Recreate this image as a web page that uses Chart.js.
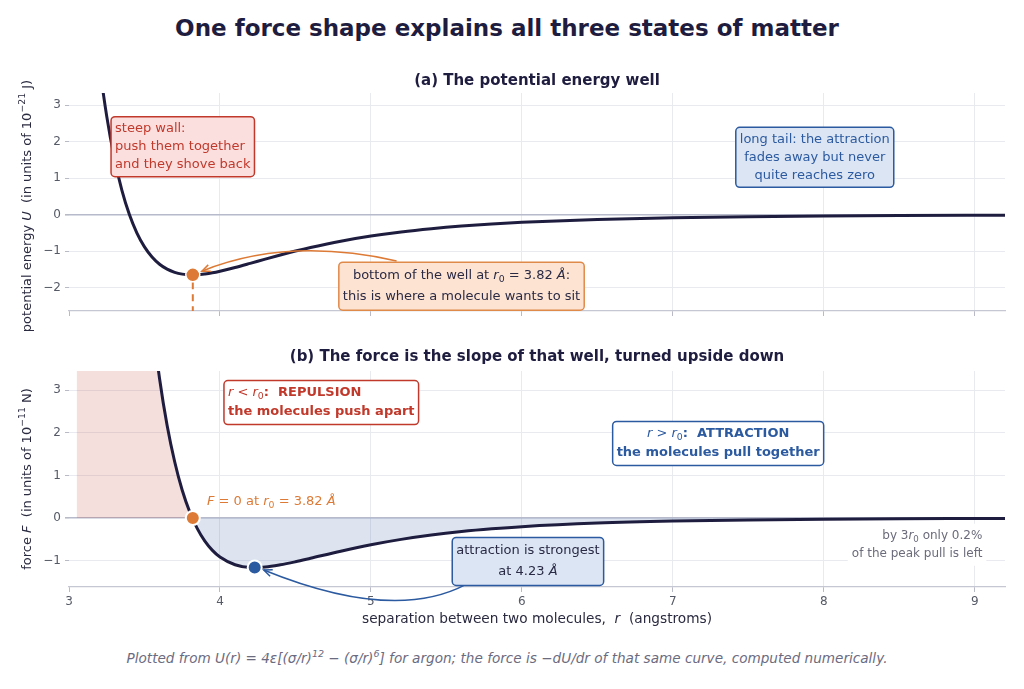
<!DOCTYPE html>
<html>
<head>
<meta charset="utf-8">
<script src="https://cdn.jsdelivr.net/npm/chart.js@4.4.1/dist/chart.umd.min.js"></script>
<style>
  body { margin: 0; background: #fff; width: 1024px; height: 689px; overflow: hidden; position: relative; font-family: "DejaVu Sans", sans-serif; }
  #title { position: absolute; top: 15px; left: -5px; width: 1024px; text-align: center; font-weight: bold; font-size: 23px; color: #1f1d3f; }
  #foot { position: absolute; top: 650px; left: -5px; width: 1024px; text-align: center; font-style: italic; font-size: 13.6px; color: #6b6b80; }
  #foot sup { font-size: 9.5px; line-height: 0; }
  .wrap { position: absolute; left: 0; width: 1024px; }
  #wa { top: 60px; height: 280px; }
  #wb { top: 340px; height: 295px; }
</style>
</head>
<body>
<div id="title">One force shape explains all three states of matter</div>
<div class="wrap" id="wa"><canvas id="well"></canvas></div>
<div class="wrap" id="wb"><canvas id="force"></canvas></div>
<div id="foot">Plotted from U(r) = 4ε[(σ/r)<sup>12</sup> − (σ/r)<sup>6</sup>] for argon; the force is −dU/dr of that same curve, computed numerically.</div>
<script>
// separation r in angstroms
const separation = [3.05, 3.10, 3.15, 3.20, 3.25, 3.30, 3.35, 3.40, 3.45, 3.50, 3.55, 3.60, 3.65, 3.70, 3.75, 3.80,
  3.85, 3.90, 3.95, 4.00, 4.10, 4.20, 4.30, 4.40, 4.50, 4.60, 4.80, 5.00, 5.20, 5.40, 5.60, 5.80, 6.00, 6.50,
  7.00, 7.50, 8.00, 8.50, 9.00, 9.20];
// potential energy U, units of 1e-21 J
const energy = [11.64, 8.51, 6.07, 4.17, 2.69, 1.549, 0.671, 0, -0.507, -0.885, -1.162, -1.360, -1.495, -1.581, -1.630, -1.649,
  -1.646, -1.625, -1.593, -1.550, -1.448, -1.335, -1.219, -1.106, -0.999, -0.901, -0.728, -0.588, -0.475, -0.386, -0.314, -0.257, -0.211, -0.132,
  -0.086, -0.057, -0.039, -0.027, -0.019, -0.017];
// force F, units of 1e-11 N
const force = [70.7, 55.2, 43.0, 33.4, 25.9, 20.0, 15.3, 11.65, 8.75, 6.47, 4.68, 3.27, 2.17, 1.32, 0.65, 0.14,
  -0.25, -0.544, -0.761, -0.917, -1.098, -1.160, -1.151, -1.100, -1.028, -0.946, -0.779, -0.628, -0.502, -0.400, -0.319, -0.255, -0.204, -0.120,
  -0.072, -0.045, -0.029, -0.019, -0.013, -0.011];

const r0 = 3.82, uMin = -1.65;
const rPeak = 4.23, fPeak = -1.16;
const xTicks = [3, 4, 5, 6, 7, 8, 9];
const uTicks = [-2, -1, 0, 1, 2, 3];
const fTicks = [-1, 0, 1, 2, 3];

const NAVY = "#1f1d3f", ORANGE = "#dd7a35", BLUE = "#2c5aa0", RED = "#c0392b";
const FONT = '"DejaVu Sans"';
Chart.defaults.font.family = FONT;
Chart.defaults.color = "#555a66";

function pts(xs, ys) { return xs.map((x, i) => ({ x: x, y: ys[i] })); }

// rich text: segs = [[text, flags]], flags: "it", "bd", "lo" (subscript), "hi" (superscript)
function richParts(ctx, segs, size) {
  return segs.map(([t, f]) => {
    f = f || "";
    const small = f.includes("lo") || f.includes("hi");
    const font = (f.includes("it") ? "italic " : "") + (f.includes("bd") ? "bold " : "") + (small ? size * 0.72 : size) + "px " + FONT;
    ctx.font = font;
    return { t, font, w: ctx.measureText(t).width, dy: f.includes("lo") ? size * 0.3 : f.includes("hi") ? -size * 0.42 : 0 };
  });
}
function drawRich(ctx, segs, x, y, align, size, color) {
  const parts = richParts(ctx, segs, size);
  const total = parts.reduce((a, p) => a + p.w, 0);
  let cx = align === "center" ? x - total / 2 : align === "right" ? x - total : x;
  ctx.textBaseline = "middle"; ctx.textAlign = "left"; ctx.fillStyle = color;
  parts.forEach(p => { ctx.font = p.font; ctx.fillText(p.t, cx, y + p.dy); cx += p.w; });
}
function note(chart, o) {
  const ctx = chart.ctx, sx = chart.scales.x, sy = chart.scales.y;
  const x = sx.getPixelForValue(o.x), y = sy.getPixelForValue(o.y);
  const size = o.size || 13, lh = o.lineH || 18;
  const widths = o.lines.map(l => richParts(ctx, l, size).reduce((a, p) => a + p.w, 0));
  const w = Math.max(...widths), h = o.lines.length * lh;
  const left = o.align === "left" ? x : o.align === "right" ? x - w : x - w / 2;
  const top = y - h / 2;
  ctx.save();
  if (o.fill || o.stroke) {
    ctx.beginPath();
    ctx.roundRect(left - 4, top - 3, w + 8, h + 6, 4);
    ctx.fillStyle = o.fill || "#fff"; ctx.fill();
    if (o.stroke) { ctx.lineWidth = 1.5; ctx.strokeStyle = o.stroke; ctx.stroke(); }
  }
  o.lines.forEach((l, i) => {
    const ax = o.align === "left" ? left : o.align === "right" ? left + w : left + w / 2;
    drawRich(ctx, l, ax, top + lh * (i + 0.5), o.align, size, o.color);
  });
  ctx.restore();
}
function arrow(chart, from, ctrl, to, color) {
  const ctx = chart.ctx, sx = chart.scales.x, sy = chart.scales.y;
  const p = a => [sx.getPixelForValue(a[0]), sy.getPixelForValue(a[1])];
  const [x0, y0] = p(from), [cx, cy] = p(ctrl), [x1, y1] = p(to);
  ctx.save();
  ctx.strokeStyle = color; ctx.lineWidth = 1.5;
  ctx.beginPath(); ctx.moveTo(x0, y0); ctx.quadraticCurveTo(cx, cy, x1, y1); ctx.stroke();
  const ang = Math.atan2(y1 - cy, x1 - cx);
  ctx.beginPath();
  ctx.moveTo(x1 - 9 * Math.cos(ang - 0.4), y1 - 9 * Math.sin(ang - 0.4));
  ctx.lineTo(x1, y1);
  ctx.lineTo(x1 - 9 * Math.cos(ang + 0.4), y1 - 9 * Math.sin(ang + 0.4));
  ctx.stroke();
  ctx.restore();
}
function yTitle(chart, segs, shift) {
  const ctx = chart.ctx, a = chart.chartArea;
  ctx.save();
  ctx.translate(28, (a.top + a.bottom) / 2 + shift);
  ctx.rotate(-Math.PI / 2);
  drawRich(ctx, segs, 0, 0, "center", 13, "#2a2a40");
  ctx.restore();
}
function panelTitle(chart, text, y) {
  const ctx = chart.ctx, a = chart.chartArea;
  ctx.save();
  ctx.font = "bold 15px " + FONT; ctx.fillStyle = NAVY;
  ctx.textAlign = "center"; ctx.textBaseline = "middle";
  ctx.fillText(text, (a.left + a.right) / 2, y);
  ctx.restore();
}

function scalesFor(yMin, yMax, yVals, showX) {
  return {
    x: {
      type: "linear", min: 3, max: 9.2,
      afterBuildTicks: s => { s.ticks = xTicks.map(v => ({ value: v })); },
      afterFit: s => { s.height = showX ? 48 : 10; },
      grid: { color: c => c.tick && c.tick.value === 3 ? "rgba(0,0,0,0)" : "#e9eaf0", tickColor: "#b8bbc6", tickLength: 5 },
      border: { display: true, color: "#c5c8d2", width: 1.2 },
      ticks: { display: showX, font: { size: 12 }, color: "#555a66", padding: 3 }
    },
    y: {
      min: yMin, max: yMax,
      afterBuildTicks: s => { s.ticks = yVals.map(v => ({ value: v })); },
      afterFit: s => { s.width = 69; },
      grid: {
        color: c => c.tick && c.tick.value === 0 ? "#b6bacb" : "#e9eaf0",
        lineWidth: c => c.tick && c.tick.value === 0 ? 1.6 : 1,
        tickColor: "#b8bbc6", tickLength: 4
      },
      border: { display: false },
      ticks: { font: { size: 12 }, color: "#555a66", padding: 4, callback: v => String(v).replace("-", "\u2212") }
    }
  };
}

const common = {
  responsive: true, maintainAspectRatio: false, animation: false,
  plugins: { legend: { display: false }, tooltip: { enabled: false } },
  elements: { point: { radius: 0 } }
};

new Chart(document.getElementById("well"), {
  type: "line",
  data: {
    datasets: [
      { data: [{ x: r0, y: uMin }], borderColor: "#fff", borderWidth: 1.5, pointRadius: 7, backgroundColor: ORANGE, pointBackgroundColor: ORANGE, showLine: false, order: 0 },
      { data: [{ x: r0, y: uMin - 0.2 }, { x: r0, y: -2.64 }], borderColor: ORANGE, borderWidth: 2, borderDash: [7, 5], pointRadius: 0, order: 1 },
      { data: pts(separation, energy), borderColor: NAVY, borderWidth: 3, pointRadius: 0, cubicInterpolationMode: "monotone", fill: false, order: 2 }
    ]
  },
  options: Object.assign({}, common, {
    layout: { padding: { top: 33, right: 19, left: 0, bottom: 19 } },
    scales: scalesFor(-2.64, 3.33, uTicks, false)
  }),
  plugins: [{
    id: "notesA",
    afterDraw(chart) {
      panelTitle(chart, "(a) The potential energy well", 21);
      yTitle(chart, [["potential energy "], ["U", "it"], ["  (in units of 10"], ["\u221221", "hi"], [" J)"]], 4);
      arrow(chart, [5.17, -1.27], [4.45, -0.6], [3.88, -1.55], ORANGE);
      note(chart, { x: 3.305, y: 1.86, align: "left", color: RED, fill: "#fbdfdf", stroke: RED,
        lines: [[["steep wall:"]], [["push them together"]], [["and they shove back"]]] });
      note(chart, { x: 7.94, y: 1.57, align: "center", color: BLUE, fill: "#dbe5f3", stroke: BLUE,
        lines: [[["long tail: the attraction"]], [["fades away but never"]], [["quite reaches zero"]]] });
      note(chart, { x: 5.6, y: -1.96, align: "center", color: "#2a2a45", fill: "#fde3d1", stroke: "#e08a4a", lineH: 21,
        lines: [[["bottom of the well at "], ["r", "it"], ["0", "lo"], [" = 3.82 "], ["\u00c5", "it"], [":"]],
                [["this is where a molecule wants to sit"]]] });
    }
  }]
});

new Chart(document.getElementById("force"), {
  type: "line",
  data: {
    datasets: [
      { data: [{ x: r0, y: 0 }], borderColor: "#fff", borderWidth: 2, pointRadius: 7, backgroundColor: ORANGE, pointBackgroundColor: ORANGE, showLine: false, order: 0 },
      { data: [{ x: rPeak, y: fPeak }], borderColor: "#fff", borderWidth: 2, pointRadius: 7, backgroundColor: BLUE, pointBackgroundColor: BLUE, showLine: false, order: 0 },
      { data: pts(separation, force), borderColor: NAVY, borderWidth: 3, pointRadius: 0, cubicInterpolationMode: "monotone",
        fill: { target: { value: 0 }, above: "rgba(192,57,43,0.16)", below: "rgba(44,90,160,0.16)" }, order: 2 }
    ]
  },
  options: Object.assign({}, common, {
    layout: { padding: { top: 31, right: 19, left: 0, bottom: 0 } },
    scales: scalesFor(-1.62, 3.45, fTicks, true)
  }),
  plugins: [{
    id: "notesB",
    afterDraw(chart) {
      const a = chart.chartArea;
      panelTitle(chart, "(b) The force is the slope of that well, turned upside down", 17);
      yTitle(chart, [["force "], ["F", "it"], ["  (in units of 10"], ["\u221211", "hi"], [" N)"]], 0);
      drawRich(chart.ctx, [["separation between two molecules,  "], ["r", "it"], ["  (angstroms)"]], (a.left + a.right) / 2, 279, "center", 13.7, "#2a2a40");
      arrow(chart, [5.63, -1.56], [5.15, -2.46], [4.29, -1.22], BLUE);
      note(chart, { x: 4.053, y: 2.71, align: "left", color: RED, fill: "#fff", stroke: RED, lineH: 19,
        lines: [[["r", "it"], [" < "], ["r", "it"], ["0", "lo"], [":  REPULSION", "bd"]], [["the molecules push apart", "bd"]]] });
      note(chart, { x: 7.3, y: 1.75, align: "center", color: BLUE, fill: "#fff", stroke: BLUE, lineH: 19,
        lines: [[["r", "it"], [" > "], ["r", "it"], ["0", "lo"], [":  ATTRACTION", "bd"]], [["the molecules pull together", "bd"]]] });
      note(chart, { x: 3.914, y: 0.38, align: "left", color: ORANGE, lineH: 18,
        lines: [[["F", "it"], [" = 0 at "], ["r", "it"], ["0", "lo"], [" = 3.82 "], ["\u00c5", "it"]]] });
      note(chart, { x: 6.04, y: -1.02, align: "center", color: "#2a2a45", fill: "#dbe5f3", stroke: BLUE, lineH: 21,
        lines: [[["attraction is strongest"]], [["at 4.23 "], ["\u00c5", "it"]]] });
      note(chart, { x: 9.05, y: -0.63, align: "right", color: "#6b6b7b", fill: "#fff", size: 12, lineH: 18,
        lines: [[["by 3"], ["r", "it"], ["0", "lo"], [" only 0.2%"]], [["of the peak pull is left"]]] });
    }
  }]
});
</script>
</body>
</html>
